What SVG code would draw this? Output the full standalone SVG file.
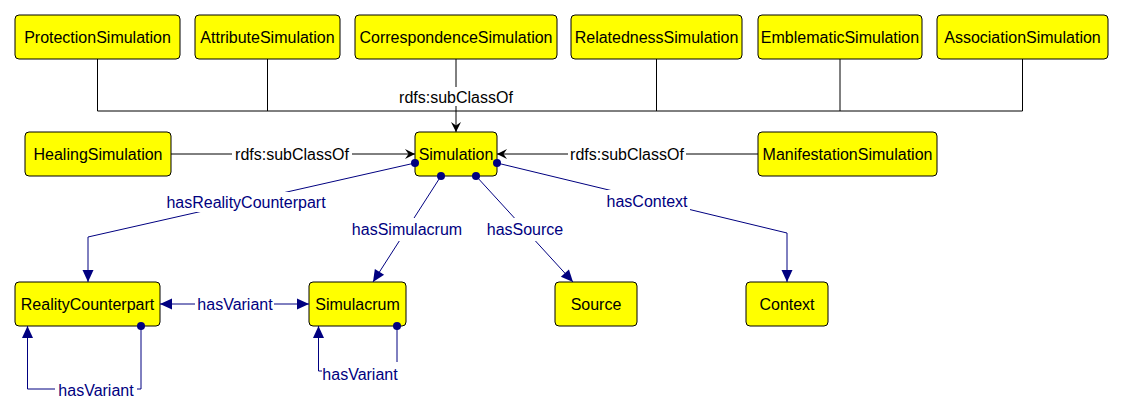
<svg xmlns="http://www.w3.org/2000/svg" width="1124" height="417" viewBox="0 0 1124 417">
<style>
.node rect{fill:#ffff00;stroke:#000;stroke-width:1}
.node text{font-family:"Liberation Sans",Arial,sans-serif;font-size:16px;fill:#000;text-anchor:middle}
.sub{fill:none;stroke:#000;stroke-width:1}
.prop{fill:none;stroke:#000080;stroke-width:1}
.lbl{font-family:"Liberation Sans",Arial,sans-serif;font-size:16px;text-anchor:middle}
.lk{fill:#000}
.lb{fill:#000080}
.bg{fill:#fff}
.dot{fill:#000080}
</style>
<defs>
<marker id="ak" markerUnits="userSpaceOnUse" markerWidth="14" markerHeight="12" viewBox="-11 -6 12 12" refX="0" refY="0" orient="auto">
<path d="M0,0 L-10,-5 L-6.5,0 L-10,5 Z" fill="#000"/>
</marker>
<marker id="ab" markerUnits="userSpaceOnUse" markerWidth="14" markerHeight="14" viewBox="-13 -7 14 14" refX="0" refY="0" orient="auto">
<path d="M0,0 L-12,-5.5 L-12,5.5 Z" fill="#000080"/>
</marker>
<marker id="abs" markerUnits="userSpaceOnUse" markerWidth="14" markerHeight="14" viewBox="-13 -7 14 14" refX="0" refY="0" orient="auto-start-reverse">
<path d="M0,0 L-12,-5.5 L-12,5.5 Z" fill="#000080"/>
</marker>
</defs>
<rect width="1124" height="417" fill="#fff"/>
<g id="ProtectionSimulation" class="node"><rect x="15" y="15" width="165" height="44" rx="4"/><text x="97.5" y="43">ProtectionSimulation</text></g>
<g id="AttributeSimulation" class="node"><rect x="195" y="15" width="145" height="44" rx="4"/><text x="267.5" y="43">AttributeSimulation</text></g>
<g id="CorrespondenceSimulation" class="node"><rect x="355" y="15" width="202" height="44" rx="4"/><text x="456" y="43">CorrespondenceSimulation</text></g>
<g id="RelatednessSimulation" class="node"><rect x="571" y="15" width="171" height="44" rx="4"/><text x="656.5" y="43">RelatednessSimulation</text></g>
<g id="EmblematicSimulation" class="node"><rect x="758" y="15" width="164" height="44" rx="4"/><text x="840" y="43">EmblematicSimulation</text></g>
<g id="AssociationSimulation" class="node"><rect x="937" y="15" width="171" height="44" rx="4"/><text x="1022.5" y="43">AssociationSimulation</text></g>
<g id="HealingSimulation" class="node"><rect x="25" y="132" width="146" height="44" rx="4"/><text x="98" y="160">HealingSimulation</text></g>
<g id="Simulation" class="node"><rect x="415" y="132" width="82" height="44" rx="4"/><text x="456" y="160">Simulation</text></g>
<g id="ManifestationSimulation" class="node"><rect x="758" y="132" width="179" height="44" rx="4"/><text x="847.5" y="160">ManifestationSimulation</text></g>
<g id="RealityCounterpart" class="node"><rect x="15" y="282" width="145" height="44" rx="4"/><text x="87.5" y="310">RealityCounterpart</text></g>
<g id="Simulacrum" class="node"><rect x="309" y="282" width="97" height="44" rx="4"/><text x="357.5" y="310">Simulacrum</text></g>
<g id="Source" class="node"><rect x="555" y="282" width="82" height="44" rx="4"/><text x="596" y="310">Source</text></g>
<g id="Context" class="node"><rect x="746" y="282" width="82" height="44" rx="4"/><text x="787" y="310">Context</text></g>
<g id="connectors">
<path class="sub" d="M97.5,59 V111 H1022.5 V59 M267.5,59 V111 M656.5,59 V111 M840,59 V111"/>
<path class="sub" d="M456,59 V132" marker-end="url(#ak)"/>
<rect class="bg" x="398" y="87" width="116" height="19"/>
<text class="lbl lk" x="456" y="103">rdfs:subClassOf</text>
<path class="sub" d="M171,154 H415" marker-end="url(#ak)"/>
<rect class="bg" x="232" y="145" width="120" height="18"/>
<text class="lbl lk" x="292" y="160">rdfs:subClassOf</text>
<path class="sub" d="M758,154 H497" marker-end="url(#ak)"/>
<rect class="bg" x="568" y="145" width="118" height="18"/>
<text class="lbl lk" x="627" y="160">rdfs:subClassOf</text>
<path class="prop" d="M415,163 L88,237 V282" marker-end="url(#ab)"/>
<circle class="dot" cx="415" cy="163" r="4"/>
<rect class="bg" x="164" y="192" width="165" height="20"/>
<text class="lbl lb" x="246" y="208">hasRealityCounterpart</text>
<path class="prop" d="M441,176 L373,282" marker-end="url(#ab)"/>
<circle class="dot" cx="441" cy="176" r="4"/>
<rect class="bg" x="349" y="218" width="116" height="23"/>
<text class="lbl lb" x="407" y="235">hasSimulacrum</text>
<path class="prop" d="M476,176 L573,282" marker-end="url(#ab)"/>
<circle class="dot" cx="476" cy="176" r="4"/>
<rect class="bg" x="484" y="218" width="82" height="23"/>
<text class="lbl lb" x="525" y="235">hasSource</text>
<path class="prop" d="M497,163 L787,233 V282" marker-end="url(#ab)"/>
<circle class="dot" cx="497" cy="163" r="4"/>
<rect class="bg" x="604" y="190" width="86" height="21"/>
<text class="lbl lb" x="647" y="207">hasContext</text>
<path class="prop" d="M160,304 H309" marker-start="url(#abs)" marker-end="url(#ab)"/>
<rect class="bg" x="195" y="295" width="79" height="18"/>
<text class="lbl lb" x="235" y="310">hasVariant</text>
<path class="prop" d="M141,326 V389 H27.5 V326" marker-end="url(#ab)"/>
<circle class="dot" cx="141" cy="326" r="4"/>
<rect class="bg" x="55" y="381" width="82" height="18"/>
<text class="lbl lb" x="96" y="396">hasVariant</text>
<path class="prop" d="M397,326 V371 H318.5 V326" marker-end="url(#ab)"/>
<circle class="dot" cx="397" cy="326" r="4"/>
<rect class="bg" x="322" y="362" width="78" height="23"/>
<text class="lbl lb" x="360" y="380">hasVariant</text>
</g>
</svg>
